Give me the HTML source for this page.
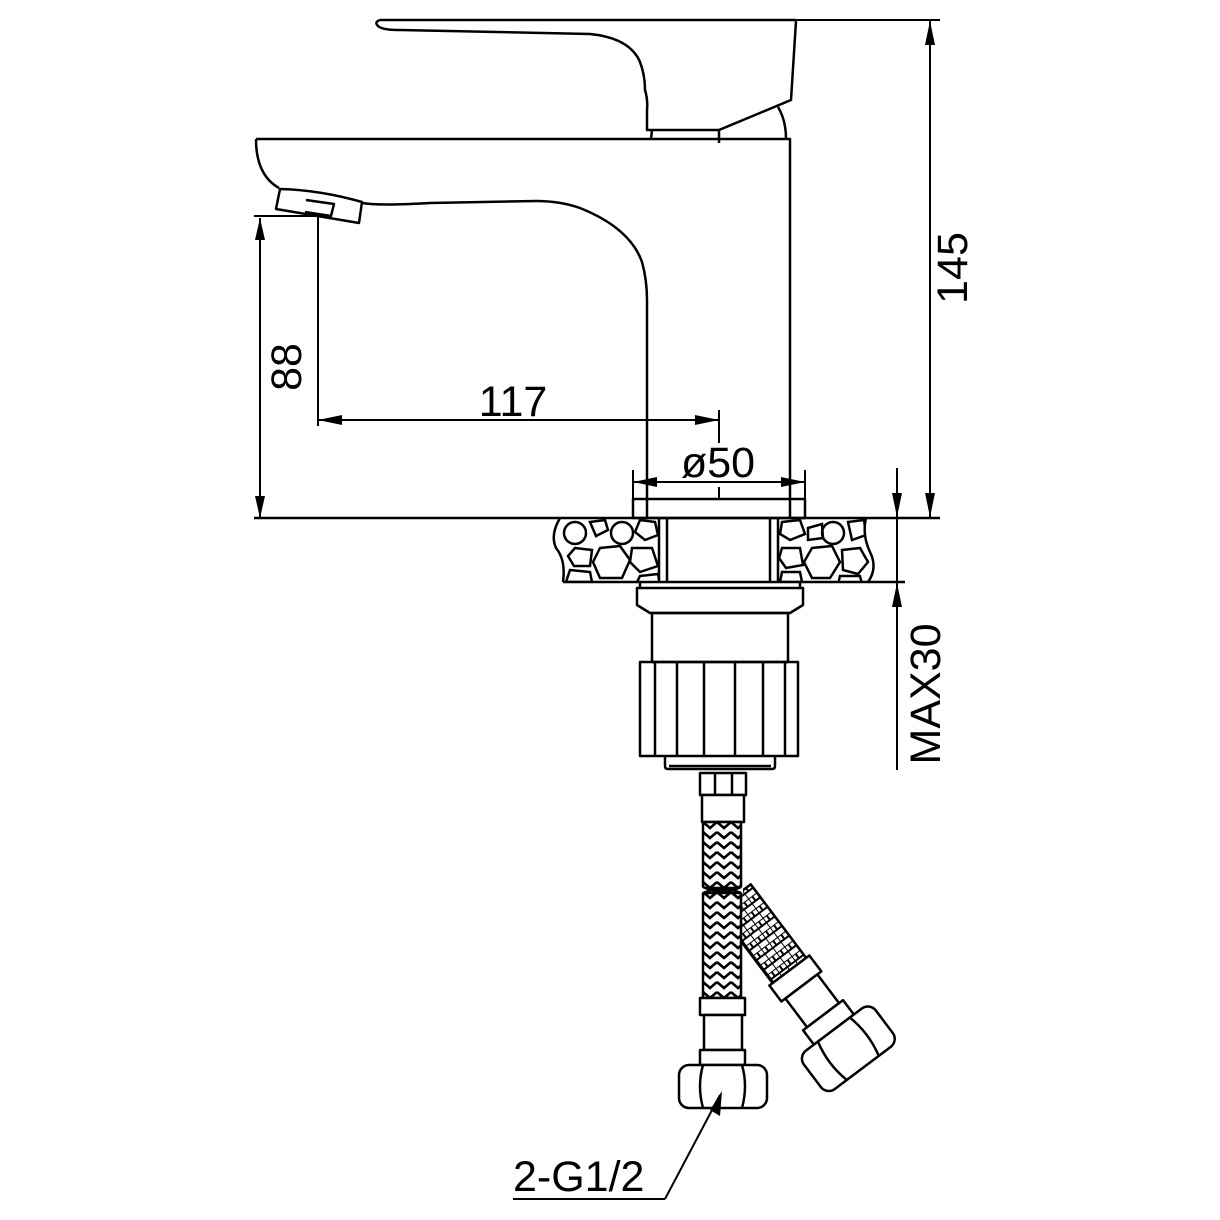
<!DOCTYPE html>
<html><head><meta charset="utf-8"><style>
html,body{margin:0;padding:0;background:#fff;}
svg{display:block;}
text{font-family:"Liberation Sans",sans-serif;fill:#000;}
</style></head><body>
<svg width="1220" height="1220" viewBox="0 0 1220 1220" xmlns="http://www.w3.org/2000/svg">
<defs>
<pattern id="braid" width="14" height="10" patternUnits="userSpaceOnUse" x="703">
<rect width="14" height="10" fill="#fff"/>
<path d="M0 2 L7 8 L14 2" fill="none" stroke="#000" stroke-width="2.6"/>
</pattern>
<pattern id="braid2" width="10" height="12" patternUnits="userSpaceOnUse">
<rect width="10" height="12" fill="#fff"/>
<path d="M0 0 V12 M5 0 V6 M0 6 H10 M0 0 H10" fill="none" stroke="#000" stroke-width="2"/>
</pattern>
<clipPath id="cl"><path d="M560 518 H660 V582 H563 Q566 560 556 548 Q550 535 560 518Z"/></clipPath>
<clipPath id="cr"><path d="M778 518 H866 Q862 535 870 552 Q878 568 868 582 H778Z"/></clipPath>
</defs>
<g fill="none" stroke="#000" stroke-width="2.5" stroke-linejoin="round">
<path d="M796 20 H380 Q374 22 378 26 Q382 30 400 30 L590 34 Q630 38 640 62 Q645 75 645 90 Q648 100 647 110 V130 H719 L791 100 L796 21"/>
<path d="M778 107 Q786 120 786 139"/>
<path d="M652 130 L651 139 M719 130 V143"/>
<path d="M256 139 H790 V518"/>
<path d="M256 139 Q256 175 279 188"/>
<path d="M280 189 Q320 190 362 202 L359 223 L276 209 Z"/>
<path d="M306 200 L334 204 L331 216 L305 212"/>
<path d="M362 203 Q380 206 430 203 L536 201 Q560 201 580 208 Q630 228 642 262 Q647 280 647 300 V518"/>
<path d="M254 518 H940"/>
<path d="M563 582 H905"/>
<rect x="633" y="499" width="172" height="19"/>
<path d="M659 518 V582 M667 518 V582 M770 518 V582 M778 518 V582"/>
<path d="M560 518 Q550 535 556 548 Q566 560 563 582"/>
<path d="M866 518 Q862 535 870 552 Q878 568 868 582"/>
<path d="M640 582 V588 M800 582 V588"/>
<path d="M637 588 H803 V605 L790 613 H650 L637 605 Z"/>
<rect x="652" y="613" width="136" height="49"/>
<rect x="640" y="662" width="158" height="94"/>
<path d="M655 662 V756 M677 662 V756 M704 662 V756 M735 662 V756 M763 662 V756 M785 662 V756"/>
<path d="M665 756 V766 Q665 769 668 769 H772 Q775 769 775 766 V756"/>
<path d="M669 766 H771"/>
</g>
<g fill="none" stroke="#000" stroke-width="2.5" clip-path="url(#cl)">
<circle cx="575" cy="533" r="11"/><circle cx="622" cy="533" r="11"/>
<polygon points="600,548 620,546 630,560 622,578 600,578 593,562"/>
<polygon points="575,548 592,550 590,566 574,566 568,556"/>
<polygon points="640,520 655,522 658,535 645,540 635,532"/>
<polygon points="590,522 605,520 608,530 596,536"/>
<polygon points="632,548 652,548 658,566 640,572 630,562"/>
<polygon points="570,570 590,572 592,582 566,582"/>
<polygon points="640,576 658,574 660,584 636,584"/>
</g>
<g fill="none" stroke="#000" stroke-width="2.5" clip-path="url(#cr)">
<polygon points="782,522 800,520 805,534 790,540 780,534"/>
<circle cx="833" cy="533" r="11"/>
<polygon points="808,528 822,524 823,538 808,540"/>
<polygon points="848,522 864,520 866,535 852,540"/>
<polygon points="812,548 832,546 840,562 830,578 812,578 804,562"/>
<polygon points="782,548 800,548 803,565 786,568 779,558"/>
<polygon points="842,550 860,548 868,562 858,574 843,570"/>
<polygon points="782,572 800,572 802,582 780,582"/>
<polygon points="840,576 860,576 862,584 838,584"/>
</g>
<g stroke="#000" stroke-width="2.5" stroke-linejoin="round">
<g transform="translate(740,905) rotate(-37)">
<rect x="-21" y="-10" width="42" height="92" fill="url(#braid2)"/>
<rect x="-25" y="82" width="50" height="20" fill="#fff"/>
<rect x="-20" y="102" width="40" height="36" fill="#fff"/>
<rect x="-25" y="138" width="50" height="18" fill="#fff"/>
<rect x="-45" y="156" width="90" height="48" rx="10" fill="#fff"/>
<path d="M-20 156 Q-26 180 -20 204 M20 156 Q26 180 20 204" fill="none"/>
</g>
<rect x="700" y="773" width="46" height="22" fill="#fff"/>
<path d="M715 773 V795 M732 773 V795" fill="none"/>
<rect x="702" y="795" width="42" height="27" fill="#fff"/>
<rect x="703" y="822" width="38" height="66" fill="url(#braid)"/>
<rect x="703" y="893" width="38" height="105" fill="url(#braid)"/>
<path d="M701 887 Q722 896 743 887 L743 893 Q722 885 701 893Z" fill="#fff" stroke="none"/>
<path d="M703 887 Q722 896 741 887 M703 893 Q722 885 741 893" fill="none"/>
<rect x="700" y="998" width="45" height="17" fill="#fff"/>
<rect x="704" y="1015" width="38" height="35" fill="#fff"/>
<rect x="700" y="1050" width="45" height="15" fill="#fff"/>
<rect x="679" y="1065" width="88" height="43" rx="10" fill="#fff"/>
<path d="M703 1065 Q697 1086 703 1108 M742 1065 Q748 1086 742 1108" fill="none"/>
</g>
<g fill="none" stroke="#000" stroke-width="2">
<path d="M254 216 H318 M318 216 V426"/>
<path d="M260 218 V518"/>
<path d="M318 420 H719"/>
<path d="M719 410 V443 M719 487 V499"/>
<path d="M633 470 V499 M805 470 V499"/>
<path d="M633 482 H805"/>
<path d="M796 20 H940"/>
<path d="M930 20 V518"/>
<path d="M897 468 V770"/>
<path d="M665 1199 H513 M665 1199 L720 1095"/>
</g>
<g fill="#000">
<polygon points="260,218 255,240 265,240"/>
<polygon points="260,518 255,496 265,496"/>
<polygon points="318,420 342,415 342,425"/>
<polygon points="719,420 695,415 695,425"/>
<polygon points="633,482 657,477 657,487"/>
<polygon points="805,482 781,477 781,487"/>
<polygon points="930,21 925,45 935,45"/>
<polygon points="930,517 925,493 935,493"/>
<polygon points="897,517 892,493 902,493"/>
<polygon points="897,583 892,607 902,607"/>
<polygon points="722,1091 710,1110 720,1116"/>
</g>
<g font-size="43">
<text x="513" y="416" text-anchor="middle">117</text>
<text x="718" y="477" text-anchor="middle">ø50</text>
<text transform="translate(301,367) rotate(-90)" text-anchor="middle">88</text>
<text transform="translate(967,268) rotate(-90)" text-anchor="middle">145</text>
<text transform="translate(940,694) rotate(-90)" text-anchor="middle">MAX30</text>
<text x="513" y="1191">2-G1/2</text>
</g>
</svg>
</body></html>
